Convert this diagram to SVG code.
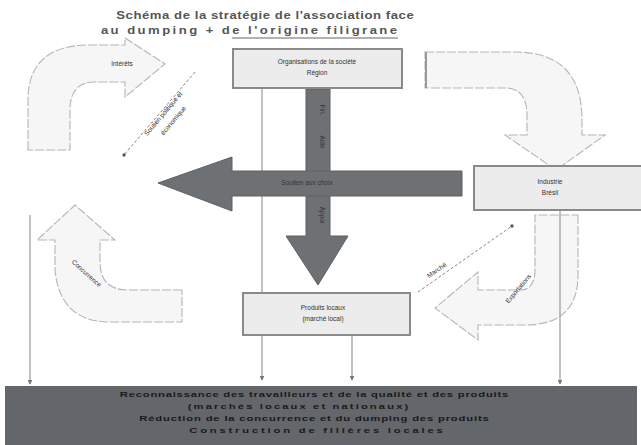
<svg xmlns="http://www.w3.org/2000/svg" width="641" height="445" viewBox="0 0 641 445">
<style>
text{font-family:"Liberation Sans",Arial,sans-serif;fill:#333;text-anchor:middle}
.t{font-size:10.5px;font-weight:bold;fill:#555}
.s{font-size:6.5px}
.b{font-size:7.5px;fill:#1a1a1a;font-weight:bold}
.node{fill:#ececec;stroke:#8a8a8a;stroke-width:2}
.light{fill:#f6f6f6;stroke:#b5b5b5;stroke-width:1.1;stroke-dasharray:9 2}
.dark{fill:#6e7174;stroke:#5e6164;stroke-width:1}
.thin{stroke:#999;stroke-width:1.2;fill:none}
.dash{stroke:#888;stroke-width:1;stroke-dasharray:3 2;fill:none}
</style>
<defs>
<marker id="ah" viewBox="0 0 6 6" refX="5" refY="3" markerWidth="4" markerHeight="4" orient="auto"><path d="M0,0L6,3L0,6Z" fill="#777"/></marker>
<marker id="dot" viewBox="0 0 6 6" refX="3" refY="3" markerWidth="4" markerHeight="4"><circle cx="3" cy="3" r="2.5" fill="#555"/></marker>
</defs>
<g id="title">
<text class="t" transform="translate(265,19) scale(1.25,1)" textLength="238" lengthAdjust="spacing">Schéma de la stratégie de l'association face</text>
<text class="t" transform="translate(249,34) scale(1.25,1)" textLength="237" lengthAdjust="spacing">au dumping + de l'origine filigrane</text>
<line x1="232" y1="38" x2="398" y2="38" stroke="#666" stroke-width="1.2"/>
</g>
<g id="connectors">
<path class="light" d="M28,150 L28,100 Q28,45 90,45 L125,45 L125,38 L165,64 L125,97 L125,82 L95,82 Q70,82 70,110 L70,150 Z"/>
<path class="light" d="M425,52 L515,52 Q582,52 582,120 L582,135 L605,135 L556,170 L505,135 L527,135 L527,115 Q527,88 505,88 L425,88 Z"/>
<path class="light" d="M182,290 L128,290 Q100,290 100,262 L100,240 L115,240 L75,205 L37,240 L55,240 L55,270 Q60,322 110,322 L182,322 Z"/>
<path class="light" d="M578,215 L578,275 Q578,325 525,325 L478,325 L478,340 L435,308 L478,272 L478,290 L520,290 Q535,290 535,270 L535,215 Z"/>
<line class="thin" x1="262" y1="48" x2="262" y2="380" marker-end="url(#ah)"/>
<line class="thin" x1="352" y1="336" x2="352" y2="380" marker-end="url(#ah)"/>
<line class="thin" x1="30" y1="215" x2="30" y2="384" marker-end="url(#ah)"/>
<line class="thin" x1="560" y1="211" x2="560" y2="384" marker-end="url(#ah)"/>
<line x1="426" y1="52" x2="426" y2="88" stroke="#999" stroke-width="2"/>
<line class="dash" x1="195" y1="72" x2="124" y2="155" marker-end="url(#dot)"/>
<line class="dash" x1="418" y1="292" x2="512" y2="226" marker-end="url(#dot)"/>
<path class="dark" d="M306,89 L306,236 L286,236 L318,285 L348,236 L330,236 L330,89 Z"/>
<path class="dark" d="M462,171 L232,171 L232,157 L158,183 L232,211 L232,196 L462,196 Z"/>
<text class="s" x="122" y="66">Intérêts</text>
<text class="s" transform="translate(165,115) rotate(-50)">Soutien politique et</text>
<text class="s" transform="translate(175,122) rotate(-50)">économique</text>
<text class="s" fill="#222" x="307" y="185">Soutien aux choix</text>
<text class="s" transform="translate(320,110) rotate(90)">Fin.</text>
<text class="s" transform="translate(320,142) rotate(90)">Aide</text>
<text class="s" transform="translate(320,215) rotate(90)">Appui</text>
<text class="s" transform="translate(85,275) rotate(42)">Concurrence</text>
<text class="s" transform="translate(438,272) rotate(-35)">Marché</text>
<text class="s" transform="translate(520,290) rotate(-50)">Exportations</text>
</g>
<g id="node-top">
<rect class="node" x="233" y="49" width="169" height="39"/>
<text class="s" x="317" y="64">Organisations de la société</text>
<text class="s" x="317" y="75">Région</text>
</g>
<g id="node-right">
<rect class="node" x="474" y="166" width="170" height="44"/>
<text class="s" x="550" y="184">Industrie</text>
<text class="s" x="550" y="195">Brésil</text>
</g>
<g id="node-bottom">
<rect class="node" x="243" y="293" width="167" height="42"/>
<text class="s" x="323" y="310">Produits locaux</text>
<text class="s" x="323" y="321">(marché local)</text>
</g>
<g id="node-bar">
<rect x="5" y="386" width="632" height="59" fill="#63666a"/>
<text class="b" transform="translate(314,397) scale(1.5,1)" textLength="259" lengthAdjust="spacing">Reconnaissance des travailleurs et de la qualité et des produits</text>
<text class="b" transform="translate(298,409) scale(1.5,1)" textLength="147" lengthAdjust="spacing">(marchés locaux et nationaux)</text>
<text class="b" transform="translate(314,421) scale(1.5,1)" textLength="233" lengthAdjust="spacing">Réduction de la concurrence et du dumping des produits</text>
<text class="b" transform="translate(316,433) scale(1.5,1)" textLength="169" lengthAdjust="spacing">Construction de filières locales</text>
</g>
</svg>
